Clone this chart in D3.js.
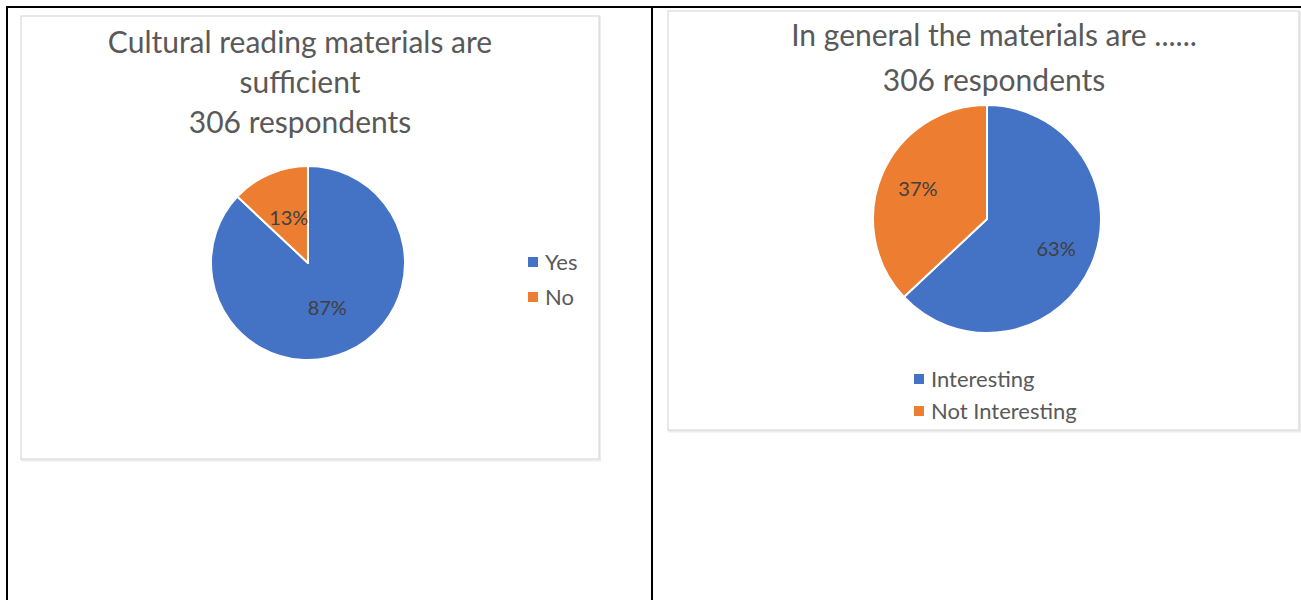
<!DOCTYPE html>
<html><head><meta charset="utf-8">
<script src="https://cdn.jsdelivr.net/npm/d3@7"></script>
<style>body{margin:0;background:#fff}svg{display:block}</style>
</head><body>
<svg id="c" width="1301" height="600"></svg>
<script>
// ---- data ----
const chart1Title = ["Cultural reading materials are", "sufficient", "306 respondents"];
const chart1Categories = ["Yes", "No"];
const chart1Values = [87, 13];
const chart2Title = ["In general the materials are ......", "306 respondents"];
const chart2Categories = ["Interesting", "Not Interesting"];
const chart2Values = [63, 37];
const colors = ["#4472C4", "#ED7D31"];

const svg = d3.select("#c");
const font = "Lato, 'Open Sans', sans-serif";
const textCol = "#595959";

// table lines
svg.append("line").attr("x1", 6).attr("x2", 1301).attr("y1", 7).attr("y2", 7).attr("stroke", "#000").attr("stroke-width", 2);
svg.append("line").attr("x1", 7).attr("x2", 7).attr("y1", 6).attr("y2", 600).attr("stroke", "#000").attr("stroke-width", 2);
svg.append("line").attr("x1", 652).attr("x2", 652).attr("y1", 6).attr("y2", 600).attr("stroke", "#000").attr("stroke-width", 2);

function chartBox(x, y, w, h) {
  svg.append("rect").attr("x", x + 1).attr("y", y + 1.5).attr("width", w).attr("height", h)
    .attr("fill", "none").attr("stroke", "#ececec").attr("stroke-width", 2);
  svg.append("rect").attr("x", x).attr("y", y).attr("width", w).attr("height", h)
    .attr("fill", "#fff").attr("stroke", "#d9d9d9").attr("stroke-width", 1.2);
}

function drawPie(g, values, cx, cy, r, labelFrac) {
  const pie = d3.pie().sort(null).value(d => d)(values);
  const arc = d3.arc().innerRadius(0).outerRadius(r);
  const labelArc = d3.arc().innerRadius(r * labelFrac).outerRadius(r * labelFrac);
  const pg = g.append("g").attr("transform", `translate(${cx},${cy})`);
  pg.selectAll("path").data(pie).join("path")
    .attr("d", arc).attr("fill", (d, i) => colors[i])
    .attr("stroke", "#fff").attr("stroke-width", 2).attr("stroke-linejoin", "round");
  pg.selectAll("text").data(pie).join("text")
    .attr("transform", d => `translate(${labelArc.centroid(d)})`)
    .attr("text-anchor", "middle").attr("dy", "0.35em")
    .attr("font-family", font).attr("font-size", 20).attr("fill", "#404040")
    .text(d => d.data + "%");
}

function legend(g, cats, x, y, dy) {
  const lg = g.append("g");
  cats.forEach((c, i) => {
    lg.append("rect").attr("x", x).attr("y", y + i * dy - 5).attr("width", 10).attr("height", 10).attr("fill", colors[i]);
    lg.append("text").attr("x", x + 17).attr("y", y + i * dy).attr("dy", "0.35em")
      .attr("font-family", font).attr("font-size", 22).attr("fill", textCol).text(c);
  });
}

// chart 1
chartBox(21, 16, 578, 443);
const g1 = svg.append("g");
g1.selectAll("text.t").data(chart1Title).join("text").attr("class", "t")
  .attr("x", 300).attr("y", (d, i) => 53 + i * 40).attr("text-anchor", "middle")
  .attr("font-family", font).attr("font-size", 30).attr("fill", textCol).text(d => d);
drawPie(g1, chart1Values, 308, 263, 97, 0.5);
legend(g1, chart1Categories, 528, 262, 35);

// chart 2
chartBox(668, 11, 631, 419);
const g2 = svg.append("g");
g2.selectAll("text.t").data(chart2Title).join("text").attr("class", "t")
  .attr("x", 994).attr("y", (d, i) => 46 + i * 45).attr("text-anchor", "middle")
  .attr("font-family", font).attr("font-size", 30).attr("fill", textCol).text(d => d);
drawPie(g2, chart2Values, 987, 219, 114, 0.66);
legend(g2, chart2Categories, 914, 379, 32);
</script>
</body></html>
